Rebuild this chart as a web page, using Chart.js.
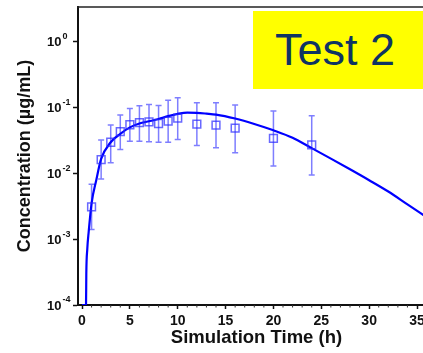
<!DOCTYPE html>
<html>
<head>
<meta charset="utf-8">
<script src="https://cdn.jsdelivr.net/npm/chart.js@4.4.1/dist/chart.umd.min.js"></script>
<style>
    html, body { margin: 0; padding: 0; background: #fff; overflow: hidden; }
    #wrap { position: relative; width: 442px; height: 353px; }
    #badge {
        position: absolute; left: 253px; top: 11px; width: 189px; height: 78px;
        background: #ffff00; color: #0f3463;
        font: 45px Arial, "Liberation Sans", sans-serif;
        line-height: 78px; padding-left: 22px; box-sizing: border-box;
    }
</style>
</head>
<body>
<div id="wrap">
    <canvas id="myChart"></canvas>
    <div id="badge">Test 2</div>
</div>
<script>
// observed concentrations (squares) with error bar limits
var obsTime = [1, 2, 3, 4, 5, 6, 7, 8, 9, 10, 12, 14, 16, 20, 24];
var obsConc = [0.0031, 0.0161, 0.0296, 0.043, 0.0546, 0.059, 0.0605, 0.057, 0.0618, 0.0686, 0.0557, 0.0538, 0.0486, 0.034, 0.027];
var obsLow = [0.0014, 0.0082, 0.0145, 0.023, 0.0307, 0.0307, 0.030, 0.0297, 0.0297, 0.0325, 0.0264, 0.0244, 0.0205, 0.0129, 0.0094];
var obsHigh = [0.0068, 0.032, 0.054, 0.077, 0.096, 0.106, 0.111, 0.107, 0.128, 0.14, 0.118, 0.118, 0.109, 0.088, 0.0745];

// simulated profile (line)
var simTime = [0, 0.42, 0.45, 0.55, 0.7, 1, 1.5, 2, 3, 4, 5, 6, 7, 8, 9, 10, 11, 12, 13, 14, 16, 18, 20, 22, 24, 26, 28, 30, 32, 34, 36];
var simConc = [0.0001, 0.0001, 0.0003, 0.0007, 0.0013, 0.0035, 0.008, 0.0165, 0.0296, 0.0397, 0.0498, 0.0571, 0.0616, 0.0667, 0.0737, 0.0798, 0.0834, 0.0828, 0.0806, 0.0779, 0.0678, 0.0561, 0.0449, 0.0346, 0.0241, 0.0167, 0.0115, 0.00785, 0.00528, 0.00337, 0.00215];

var yExps = [0, -1, -2, -3, -4];
var xMinor = [];
for (var m = 0; m <= 36; m++) {
    if (m % 5 != 0) xMinor.push(m);
}

var FONT = 'Arial, "Liberation Sans", sans-serif';

var extras = {
    id: 'extras',
    beforeDatasetsDraw: function (chart) {
        var ctx = chart.ctx;
        var xs = chart.scales.x, ys = chart.scales.y;
        var a = chart.chartArea;
        ctx.save();
        ctx.beginPath();
        ctx.rect(a.left, a.top, a.right - a.left, a.bottom - a.top);
        ctx.clip();
        ctx.strokeStyle = 'rgba(40,40,255,0.6)';
        ctx.lineWidth = 1.5;
        obsTime.forEach(function (t, i) {
            var x = xs.getPixelForValue(t);
            var y1 = ys.getPixelForValue(obsLow[i]);
            var y2 = ys.getPixelForValue(obsHigh[i]);
            ctx.beginPath();
            ctx.moveTo(x, y1); ctx.lineTo(x, y2);
            ctx.moveTo(x - 3, y1); ctx.lineTo(x + 3, y1);
            ctx.moveTo(x - 3, y2); ctx.lineTo(x + 3, y2);
            ctx.stroke();
        });
        ctx.restore();
    },
    afterDraw: function (chart) {
        var ctx = chart.ctx;
        var xs = chart.scales.x, ys = chart.scales.y;
        var a = chart.chartArea;
        ctx.save();
        // top frame
        ctx.strokeStyle = '#222';
        ctx.lineWidth = 1.5;
        ctx.beginPath();
        ctx.moveTo(a.left - 1, a.top);
        ctx.lineTo(a.right, a.top);
        ctx.stroke();
        // minor x ticks
        ctx.lineWidth = 1;
        ctx.strokeStyle = '#333';
        xMinor.forEach(function (t) {
            var x = xs.getPixelForValue(t);
            ctx.beginPath();
            ctx.moveTo(x, a.bottom);
            ctx.lineTo(x, a.bottom + 2.5);
            ctx.stroke();
        });
        // y labels 10^n
        ctx.fillStyle = '#111';
        ctx.textAlign = 'left';
        ctx.textBaseline = 'middle';
        yExps.forEach(function (e) {
            var y = ys.getPixelForValue(Math.pow(10, e));
            ctx.font = 'bold 13px ' + FONT;
            ctx.fillText('10', 47, y + 1);
            var w = ctx.measureText('10').width;
            ctx.font = 'bold 9px ' + FONT;
            ctx.fillText(e == 0 ? '0' : '-' + (-e), 47 + w + 1, y - 5);
        });
        ctx.restore();
    }
};

var ctx = document.getElementById('myChart').getContext('2d');
var lineChart = new Chart(ctx, {
    type: 'line',
    data: {
        datasets: [{
            label: 'Observed',
            data: obsTime.map(function (t, i) { return {x: t, y: obsConc[i]}; }),
            showLine: false,
            pointStyle: 'rect',
            pointRadius: 5.5,
            pointBorderWidth: 1.5,
            pointBorderColor: 'rgba(40,40,255,0.7)',
            pointBackgroundColor: 'rgba(0,0,0,0)'
        }, {
            label: 'Simulated',
            data: simTime.map(function (t, i) { return {x: t, y: simConc[i]}; }),
            borderColor: '#0000ff',
            borderWidth: 2.2,
            pointRadius: 0,
            cubicInterpolationMode: 'monotone',
            fill: false
        }]
    },
    options: {
        responsive: true,
        maintainAspectRatio: false,
        animation: false,
        layout: {padding: {top: 3, left: 0, right: 0, bottom: 0}},
        plugins: {legend: {display: false}, tooltip: {enabled: false}},
        scales: {
            x: {
                type: 'linear',
                min: -0.418,
                max: 36.88,
                ticks: {
                    stepSize: 5,
                    includeBounds: false,
                    color: '#111',
                    padding: 4,
                    maxRotation: 0,
                    font: {family: FONT, size: 14, weight: 'bold'}
                },
                grid: {drawOnChartArea: false, drawTicks: true, tickLength: 4, tickColor: '#111', tickWidth: 1.5},
                border: {display: true, color: '#111', width: 2},
                title: {
                    display: true,
                    text: 'Simulation Time (h)',
                    color: '#111',
                    padding: {top: 0, bottom: 4},
                    font: {family: FONT, size: 18.5, weight: 'bold'}
                },
                afterFit: function (scale) { scale.height = 48; }
            },
            y: {
                type: 'logarithmic',
                min: 0.0001,
                max: 3.35,
                afterBuildTicks: function (scale) {
                    scale.ticks = yExps.map(function (e) { return {value: Math.pow(10, e)}; });
                },
                ticks: {display: false},
                grid: {drawOnChartArea: false, drawTicks: true, tickLength: 5, tickColor: '#111', tickWidth: 1.5},
                border: {display: true, color: '#111', width: 2},
                title: {
                    display: true,
                    text: 'Concentration (µg/mL)',
                    color: '#111',
                    padding: {top: 14, bottom: 0},
                    font: {family: FONT, size: 18, weight: 'bold'}
                },
                afterFit: function (scale) {
                    scale.width = 78;
                    scale.paddingTop = 0;
                    scale.paddingBottom = 0;
                }
            }
        }
    },
    plugins: [extras]
});
</script>
</body>
</html>
